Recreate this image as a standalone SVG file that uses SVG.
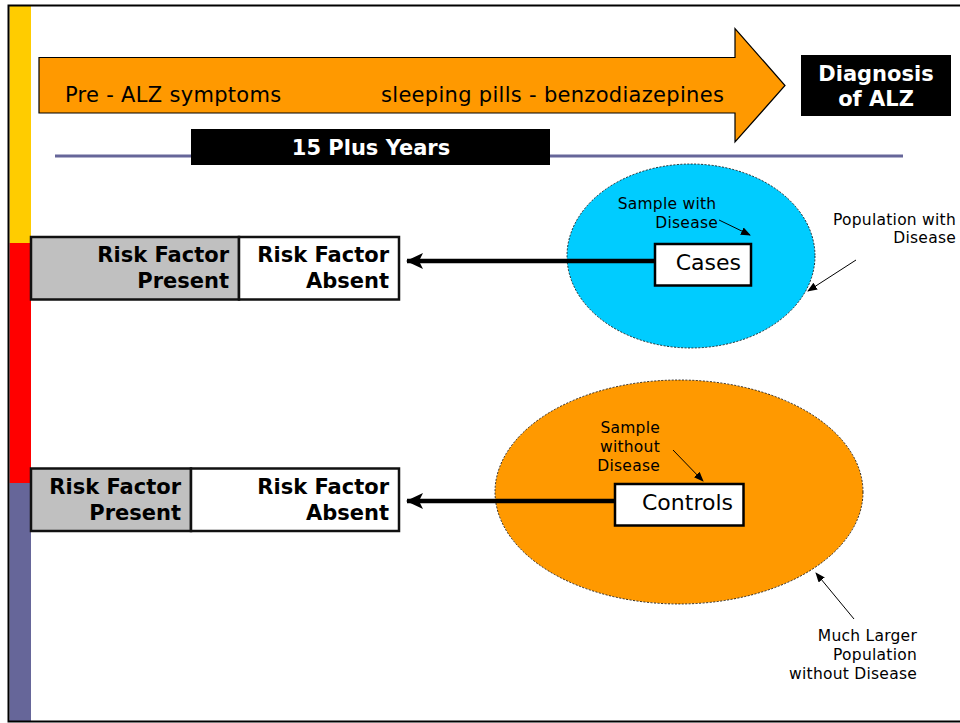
<svg xmlns="http://www.w3.org/2000/svg" width="960" height="723" viewBox="0 0 960 723">
  <style>
    text { font-family: "DejaVu Sans", Verdana, sans-serif; fill: #000; }
    .big { font-size: 21px; letter-spacing: 0.3px; }
    .bold { font-size: 21px; font-weight: bold; }
    .wbold { font-size: 21px; font-weight: bold; fill: #fff; }
    .small { font-size: 15.5px; letter-spacing: 0.25px; }
    .label { font-size: 22px; }
    .cell { stroke: #111; stroke-width: 2.5; }
    .thin { stroke: #000; stroke-width: 1; fill: none; }
    .conn { stroke: #000; stroke-width: 4.5; fill: none; }
  </style>
  <defs>
    <marker id="bigHead" markerWidth="17" markerHeight="17" refX="16" refY="8" orient="auto" markerUnits="userSpaceOnUse">
      <path d="M0,0 L17,8 L0,16 L4,8 z" fill="#000"/>
    </marker>
    <marker id="smallHead" markerWidth="10" markerHeight="8" refX="9" refY="4" orient="auto" markerUnits="userSpaceOnUse">
      <path d="M0,0 L10,4 L0,8 z" fill="#000"/>
    </marker>
  </defs>

  <!-- background and page frame -->
  <rect width="960" height="723" fill="#fff"/>
  <rect x="9.5" y="6" width="21.5" height="237" fill="#FFCC00"/>
  <rect x="9.5" y="243" width="21.5" height="240" fill="#FF0000"/>
  <rect x="9.5" y="483" width="21.5" height="238" fill="#666699"/>
  <path d="M960,5.5 H8.5 V721.5 H960" fill="none" stroke="#000" stroke-width="2"/>

  <!-- timeline arrow -->
  <g id="timeline">
    <path d="M39,57.5 H735 V28.5 L785,85.5 L735,142 V113 H39 Z" fill="#FF9900" stroke="#000" stroke-width="1.2"/>
    <text class="big" x="65" y="101.5">Pre - ALZ symptoms</text>
    <text class="big" x="381" y="101.5">sleeping pills - benzodiazepines</text>
  </g>

  <g id="diagnosis">
    <rect x="801" y="55" width="150" height="61" fill="#000"/>
    <text class="wbold" x="876" y="81" text-anchor="middle">Diagnosis</text>
    <text class="wbold" x="876" y="106" text-anchor="middle">of ALZ</text>
  </g>

  <!-- duration bar -->
  <g id="duration">
    <line x1="55" y1="156" x2="903" y2="156" stroke="#666699" stroke-width="3"/>
    <rect x="191" y="129" width="359" height="36" fill="#000"/>
    <text class="wbold" x="371" y="155" text-anchor="middle">15 Plus Years</text>
  </g>

  <!-- case exposure table -->
  <g id="cases-table">
    <rect class="cell" x="31" y="237" width="208" height="62.5" fill="#C0C0C0"/>
    <rect class="cell" x="239" y="237" width="160" height="62.5" fill="#fff"/>
    <text class="bold" x="229" y="262" text-anchor="end">Risk Factor</text>
    <text class="bold" x="229" y="288" text-anchor="end">Present</text>
    <text class="bold" x="389" y="262" text-anchor="end">Risk Factor</text>
    <text class="bold" x="389" y="288" text-anchor="end">Absent</text>
  </g>

  <!-- control exposure table -->
  <g id="controls-table">
    <rect class="cell" x="31" y="468.5" width="160" height="62.5" fill="#C0C0C0"/>
    <rect class="cell" x="191" y="468.5" width="208" height="62.5" fill="#fff"/>
    <text class="bold" x="181" y="494" text-anchor="end">Risk Factor</text>
    <text class="bold" x="181" y="520" text-anchor="end">Present</text>
    <text class="bold" x="389" y="494" text-anchor="end">Risk Factor</text>
    <text class="bold" x="389" y="520" text-anchor="end">Absent</text>
  </g>

  <!-- populations -->
  <g id="population-disease">
    <ellipse cx="691" cy="256" rx="124" ry="92" fill="#00CCFF" stroke="#000" stroke-width="0.8" stroke-dasharray="2,1.5"/>
  </g>
  <g id="population-no-disease">
    <ellipse cx="679" cy="492" rx="184" ry="112" fill="#FF9900" stroke="#000" stroke-width="0.8" stroke-dasharray="2,1.5"/>
  </g>

  <!-- connectors -->
  <g id="connectors">
    <line class="conn" x1="655" y1="261" x2="407" y2="261" marker-end="url(#bigHead)"/>
    <line class="conn" x1="615" y1="501" x2="407" y2="501" marker-end="url(#bigHead)"/>
    <line class="thin" x1="719" y1="220" x2="750" y2="235" marker-end="url(#smallHead)"/>
    <line class="thin" x1="856" y1="260" x2="808" y2="291" marker-end="url(#smallHead)"/>
    <line class="thin" x1="673" y1="450" x2="703" y2="481" marker-end="url(#smallHead)"/>
    <line class="thin" x1="854" y1="619" x2="816" y2="573" marker-end="url(#smallHead)"/>
  </g>

  <g id="cases">
    <rect x="655" y="244" width="96" height="41.5" fill="#fff" stroke="#000" stroke-width="2.5"/>
    <text class="label" x="741" y="269.5" text-anchor="end">Cases</text>
  </g>
  <g id="controls">
    <rect x="615" y="484" width="128.5" height="41.5" fill="#fff" stroke="#000" stroke-width="2.5"/>
    <text class="label" x="733" y="510" text-anchor="end">Controls</text>
  </g>

  <!-- annotations -->
  <g id="sample-with">
    <text class="small" x="667" y="209" text-anchor="middle">Sample with</text>
    <text class="small" x="718" y="228" text-anchor="end">Disease</text>
  </g>
  <g id="population-with">
    <text class="small" x="956" y="225" text-anchor="end">Population with</text>
    <text class="small" x="956" y="243" text-anchor="end">Disease</text>
  </g>
  <g id="sample-without">
    <text class="small" x="660" y="433" text-anchor="end">Sample</text>
    <text class="small" x="660" y="452" text-anchor="end">without</text>
    <text class="small" x="660" y="471" text-anchor="end">Disease</text>
  </g>
  <g id="larger-population">
    <text class="small" x="917" y="641" text-anchor="end">Much Larger</text>
    <text class="small" x="917" y="660" text-anchor="end">Population</text>
    <text class="small" x="917" y="679" text-anchor="end">without Disease</text>
  </g>
</svg>
